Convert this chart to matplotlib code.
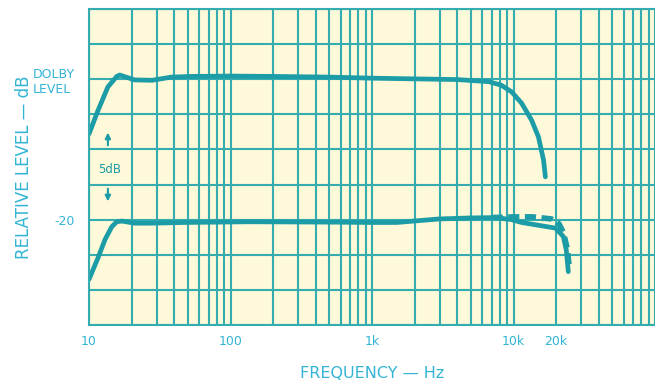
import matplotlib
matplotlib.use("Agg")
import matplotlib.pyplot as plt
from matplotlib.ticker import LogLocator, MultipleLocator, NullFormatter

# frequency response readings (Hz, dB re Dolby level)
upper_freq = [10, 11.6, 13.6, 15.7, 16.5, 21, 28, 38, 53, 100, 200, 500,
              1000, 2000, 4000, 6700, 8200, 9700, 11400, 13400, 15000, 16300, 16800]
upper_db = [-7.8, -4.4, -1.1, 0.4, 0.6, -0.1, -0.15, 0.3, 0.4, 0.45, 0.4, 0.3,
            0.15, 0.05, -0.05, -0.35, -0.85, -1.8, -3.4, -5.8, -8.2, -11.5, -13.9]

lower_freq = [10, 11.6, 13, 14.5, 15.7, 17.1, 21, 28, 47, 136, 500, 950, 1500,
              2970, 5000, 7460, 9700, 11400, 15000, 19800, 22500, 23600, 24400]
lower_db = [-28.5, -25.4, -22.8, -21.0, -20.3, -20.2, -20.5, -20.5, -20.4, -20.3,
            -20.35, -20.4, -20.4, -19.9, -19.75, -19.7, -20.0, -20.4, -20.8, -21.2,
            -22.4, -24.3, -27.4]

dash_freq = [7000, 10000, 13700, 18600, 21000, 22500, 24000, 24800]
dash_db = [-19.7, -19.6, -19.6, -19.9, -20.6, -21.8, -24.1, -26.8]

freq_ticks = [10, 100, 1000, 10000, 20000]
freq_labels = ["10", "100", "1k", "10k", "20k"]
level_ticks = [0, -20]
level_labels = ["DOLBY\nLEVEL", "-20"]

grid_c = "#35acb0"
curve_c = "#1b9ca6"
text_c = "#33b4d4"
paper = "#fdf9d9"

fig = plt.figure(figsize=(6.55, 3.84), dpi=100)
ax = fig.add_axes([89 / 655, 59 / 384, 566 / 655, 316 / 384])
ax.set_facecolor(paper)

ax.set_xscale("log")
ax.set_xlim(10, 1e5)
ax.set_ylim(-35, 10)

# grid: every 5 dB, log decades with 2..9 subdivisions
ax.xaxis.set_minor_locator(LogLocator(base=10, subs=range(2, 10)))
ax.xaxis.set_minor_formatter(NullFormatter())
ax.yaxis.set_minor_locator(MultipleLocator(5))
ax.grid(True, which="both", color=grid_c, lw=1.5)
ax.set_axisbelow(True)

ax.set_xticks(freq_ticks, freq_labels)
ax.set_yticks(level_ticks, level_labels)
ax.tick_params(which="both", length=0, colors=text_c, labelsize=9)
ax.tick_params(axis="x", pad=7)
ax.tick_params(axis="y", pad=10)
for lab in ax.get_yticklabels():
    lab.set_multialignment("left")

for s in ax.spines.values():
    s.set_color(grid_c)
    s.set_linewidth(1.5)

ax.plot(upper_freq, upper_db, color=curve_c, lw=3.4, solid_capstyle="round")
ax.plot(lower_freq, lower_db, color=curve_c, lw=3.4, solid_capstyle="round")
ax.plot(dash_freq, dash_db, color=curve_c, lw=4, linestyle=(0, (2, 1)))

# 5 dB scale marker
ax.text(14.0, -12.9, "5dB", color=curve_c, fontsize=8.5, ha="center", va="center")
ax.annotate("", xy=(13.6, -7.2), xytext=(13.6, -9.8),
            arrowprops=dict(arrowstyle="-|>", color=curve_c, lw=1.5, mutation_scale=8))
ax.annotate("", xy=(13.6, -17.8), xytext=(13.6, -15.2),
            arrowprops=dict(arrowstyle="-|>", color=curve_c, lw=1.5, mutation_scale=8))

ax.set_xlabel("FREQUENCY — Hz", color=text_c, fontsize=11.5, labelpad=13)
ax.set_ylabel("RELATIVE LEVEL — dB", color=text_c, fontsize=12, labelpad=0)

fig.savefig("out.png", dpi=100, facecolor="white")
